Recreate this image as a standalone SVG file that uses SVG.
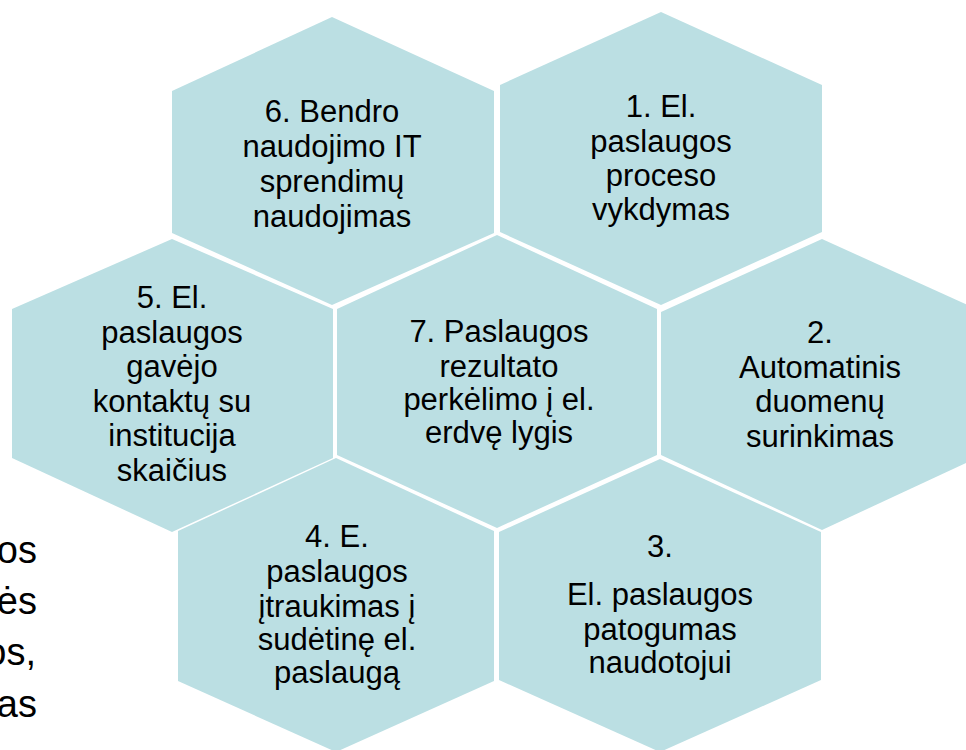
<svg xmlns="http://www.w3.org/2000/svg" width="966" height="750" viewBox="0 0 966 750">
<style>
.hex{fill:#BBDFE3;stroke:none}
.t{font-family:"Liberation Sans",Arial,sans-serif;font-size:31px;fill:#000;text-anchor:middle}
.bg{font-family:"Liberation Sans",Arial,sans-serif;font-size:38px;fill:#000;text-anchor:end}
</style>
<rect width="966" height="750" fill="#fff"/>
<g id="background-text">
<text class="bg" x="37" y="563">os</text>
<text class="bg" x="37" y="614">ės</text>
<text class="bg" x="36" y="665">os,</text>
<text class="bg" x="37" y="717">as</text>
</g>
<g id="node6">
<polygon class="hex" points="332,17 494,91 494,233 332,305 172,233 172,91"/>
<text class="t"><tspan x="332" y="122">6. Bendro</tspan><tspan x="332" y="157">naudojimo IT</tspan><tspan x="332" y="192">sprendimų</tspan><tspan x="332" y="227">naudojimas</tspan></text>
</g>
<g id="node1">
<polygon class="hex" points="661,12 822,85 822,232 661,305 500,232 500,85"/>
<text class="t"><tspan x="661" y="117">1. El.</tspan><tspan x="661" y="152">paslaugos</tspan><tspan x="661" y="186">proceso</tspan><tspan x="661" y="220">vykdymas</tspan></text>
</g>
<g id="node5">
<polygon class="hex" points="172,239 333,309 333,458 172,532 12,458 12,309"/>
<text class="t"><tspan x="172" y="308">5. El.</tspan><tspan x="172" y="342.5">paslaugos</tspan><tspan x="172" y="377">gavėjo</tspan><tspan x="172" y="411.5">kontaktų su</tspan><tspan x="172" y="446">institucija</tspan><tspan x="172" y="480.5">skaičius</tspan></text>
</g>
<g id="node7">
<polygon class="hex" points="497,235 657,309 657,455 497,528 337,455 337,309"/>
<text class="t"><tspan x="499" y="342">7. Paslaugos</tspan><tspan x="499" y="377">rezultato</tspan><tspan x="499" y="410">perkėlimo į el.</tspan><tspan x="499" y="443">erdvę lygis</tspan></text>
</g>
<g id="node2">
<polygon class="hex" points="822,239 983,312 983,455 822,530 661,455 661,312"/>
<text class="t"><tspan x="820" y="343">2.</tspan><tspan x="820" y="378">Automatinis</tspan><tspan x="820" y="412">duomenų</tspan><tspan x="820" y="447">surinkimas</tspan></text>
</g>
<g id="node4">
<polygon class="hex" points="336,458 494,531 494,681 336,752 178,681 178,531"/>
<text class="t"><tspan x="337" y="547">4. E.</tspan><tspan x="337" y="582">paslaugos</tspan><tspan x="337" y="617">įtraukimas į</tspan><tspan x="337" y="650">sudėtinę el.</tspan><tspan x="337" y="683">paslaugą</tspan></text>
</g>
<g id="node3">
<polygon class="hex" points="660,459 821,532 821,680 660,752 499,680 499,532"/>
<text class="t"><tspan x="660" y="557">3.</tspan><tspan x="660" y="605">El. paslaugos</tspan><tspan x="660" y="640">patogumas</tspan><tspan x="660" y="673">naudotojui</tspan></text>
</g>
</svg>
